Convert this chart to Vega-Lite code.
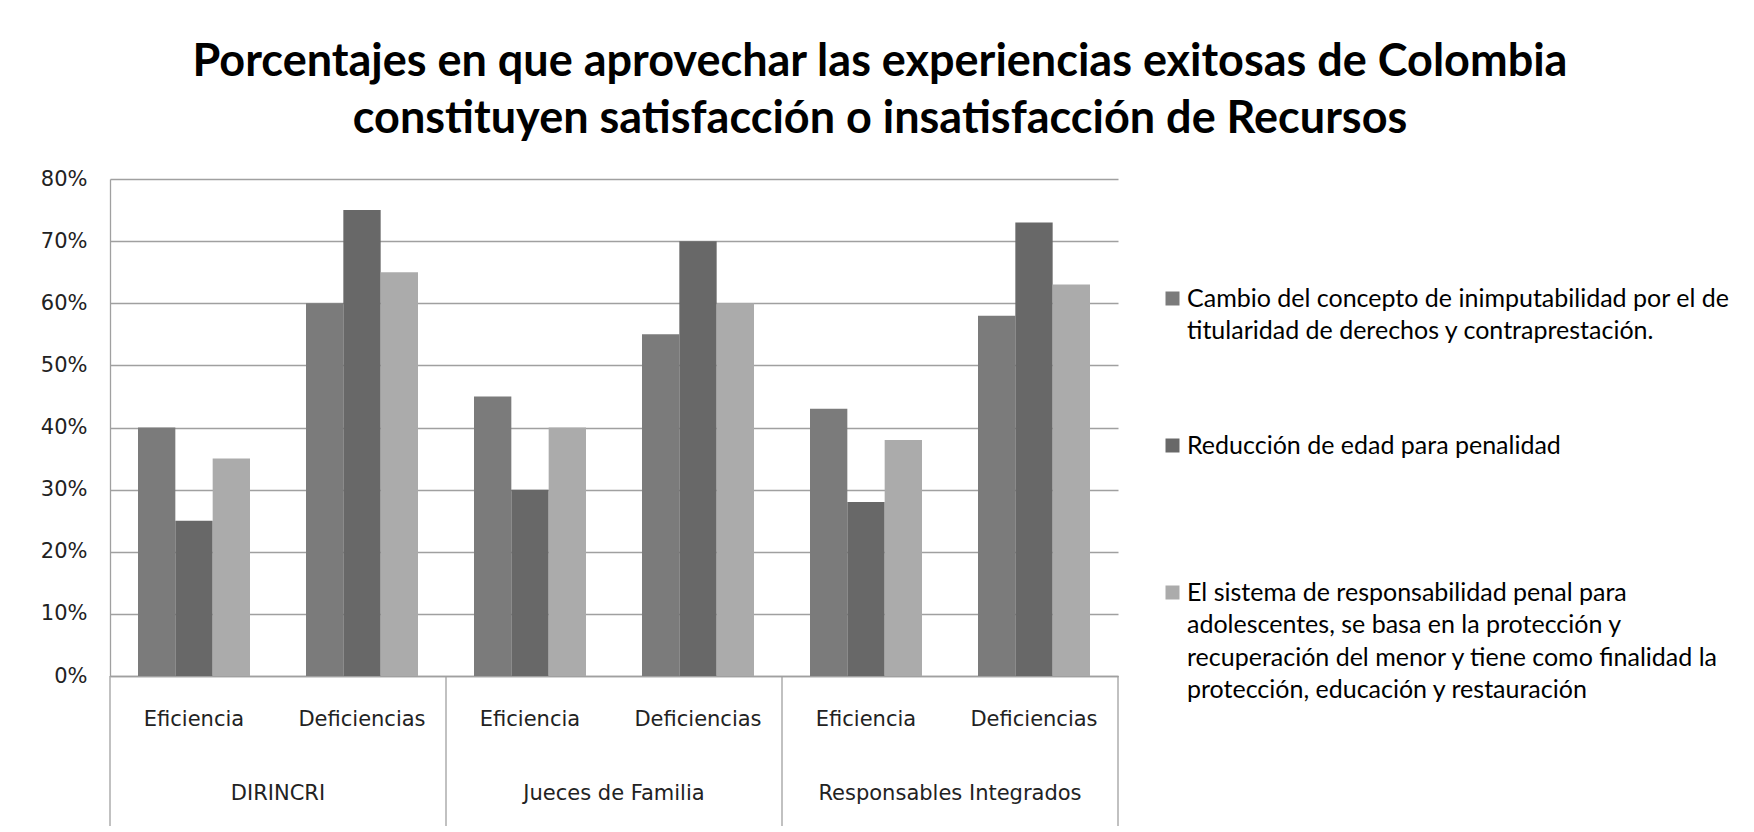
{
  "$schema": "https://vega.github.io/schema/vega-lite/v6.json",
  "width": 1008,
  "height": 497,
  "autosize": {"type": "none"},
  "padding": {"left": 110, "top": 179, "right": 636, "bottom": 156},
  "background": "white",
  "title": {
    "text": ["Porcentajes en que aprovechar las experiencias exitosas de Colombia", "constituyen satisfacción o insatisfacción de Recursos"],
    "font": "Lato", "fontSize": 45, "fontWeight": "bold", "lineHeight": 57, "color": "#000000",
    "anchor": "middle", "frame": "group", "dx": 266, "offset": 26
  },
  "config": {"view": {"stroke": null}},
  "data": {
    "values": [
      {"grupo": "DIRINCRI", "categoria": "Eficiencia", "cat": "DIRINCRI|Eficiencia", "serie": "Cambio del concepto de inimputabilidad por el de titularidad de derechos y contraprestación.", "valor": 0.40},
      {"grupo": "DIRINCRI", "categoria": "Eficiencia", "cat": "DIRINCRI|Eficiencia", "serie": "Reducción de edad para penalidad", "valor": 0.25},
      {"grupo": "DIRINCRI", "categoria": "Eficiencia", "cat": "DIRINCRI|Eficiencia", "serie": "El sistema de responsabilidad penal para adolescentes, se basa en la protección y recuperación del menor y tiene como finalidad la protección, educación y restauración", "valor": 0.35},
      {"grupo": "DIRINCRI", "categoria": "Deficiencias", "cat": "DIRINCRI|Deficiencias", "serie": "Cambio del concepto de inimputabilidad por el de titularidad de derechos y contraprestación.", "valor": 0.60},
      {"grupo": "DIRINCRI", "categoria": "Deficiencias", "cat": "DIRINCRI|Deficiencias", "serie": "Reducción de edad para penalidad", "valor": 0.75},
      {"grupo": "DIRINCRI", "categoria": "Deficiencias", "cat": "DIRINCRI|Deficiencias", "serie": "El sistema de responsabilidad penal para adolescentes, se basa en la protección y recuperación del menor y tiene como finalidad la protección, educación y restauración", "valor": 0.65},
      {"grupo": "Jueces de Familia", "categoria": "Eficiencia", "cat": "Jueces de Familia|Eficiencia", "serie": "Cambio del concepto de inimputabilidad por el de titularidad de derechos y contraprestación.", "valor": 0.45},
      {"grupo": "Jueces de Familia", "categoria": "Eficiencia", "cat": "Jueces de Familia|Eficiencia", "serie": "Reducción de edad para penalidad", "valor": 0.30},
      {"grupo": "Jueces de Familia", "categoria": "Eficiencia", "cat": "Jueces de Familia|Eficiencia", "serie": "El sistema de responsabilidad penal para adolescentes, se basa en la protección y recuperación del menor y tiene como finalidad la protección, educación y restauración", "valor": 0.40},
      {"grupo": "Jueces de Familia", "categoria": "Deficiencias", "cat": "Jueces de Familia|Deficiencias", "serie": "Cambio del concepto de inimputabilidad por el de titularidad de derechos y contraprestación.", "valor": 0.55},
      {"grupo": "Jueces de Familia", "categoria": "Deficiencias", "cat": "Jueces de Familia|Deficiencias", "serie": "Reducción de edad para penalidad", "valor": 0.70},
      {"grupo": "Jueces de Familia", "categoria": "Deficiencias", "cat": "Jueces de Familia|Deficiencias", "serie": "El sistema de responsabilidad penal para adolescentes, se basa en la protección y recuperación del menor y tiene como finalidad la protección, educación y restauración", "valor": 0.60},
      {"grupo": "Responsables Integrados", "categoria": "Eficiencia", "cat": "Responsables Integrados|Eficiencia", "serie": "Cambio del concepto de inimputabilidad por el de titularidad de derechos y contraprestación.", "valor": 0.43},
      {"grupo": "Responsables Integrados", "categoria": "Eficiencia", "cat": "Responsables Integrados|Eficiencia", "serie": "Reducción de edad para penalidad", "valor": 0.28},
      {"grupo": "Responsables Integrados", "categoria": "Eficiencia", "cat": "Responsables Integrados|Eficiencia", "serie": "El sistema de responsabilidad penal para adolescentes, se basa en la protección y recuperación del menor y tiene como finalidad la protección, educación y restauración", "valor": 0.38},
      {"grupo": "Responsables Integrados", "categoria": "Deficiencias", "cat": "Responsables Integrados|Deficiencias", "serie": "Cambio del concepto de inimputabilidad por el de titularidad de derechos y contraprestación.", "valor": 0.58},
      {"grupo": "Responsables Integrados", "categoria": "Deficiencias", "cat": "Responsables Integrados|Deficiencias", "serie": "Reducción de edad para penalidad", "valor": 0.73},
      {"grupo": "Responsables Integrados", "categoria": "Deficiencias", "cat": "Responsables Integrados|Deficiencias", "serie": "El sistema de responsabilidad penal para adolescentes, se basa en la protección y recuperación del menor y tiene como finalidad la protección, educación y restauración", "valor": 0.63}
    ]
  },
  "layer": [
    {
      "mark": {"type": "bar"},
      "encoding": {
        "x": {
          "field": "cat", "type": "nominal",
          "scale": {
            "domain": ["DIRINCRI|Eficiencia", "DIRINCRI|Deficiencias", "Jueces de Familia|Eficiencia", "Jueces de Familia|Deficiencias", "Responsables Integrados|Eficiencia", "Responsables Integrados|Deficiencias"],
            "paddingInner": 0, "paddingOuter": 0
          },
          "axis": {
            "title": null, "labelExpr": "split(datum.value, '|')[1]", "labelAngle": 0,
            "labelFont": "DejaVu Sans", "labelFontSize": 21, "labelColor": "#222222",
            "ticks": false, "tickSize": 0, "labelPadding": 43, "labelBaseline": "middle",
            "domainColor": "#a0a0a0", "domainWidth": 1.3, "grid": false
          }
        },
        "xOffset": {
          "field": "serie", "type": "nominal",
          "scale": {
            "domain": ["Cambio del concepto de inimputabilidad por el de titularidad de derechos y contraprestación.", "Reducción de edad para penalidad", "El sistema de responsabilidad penal para adolescentes, se basa en la protección y recuperación del menor y tiene como finalidad la protección, educación y restauración"],
            "paddingInner": 0, "paddingOuter": 0.75
          }
        },
        "y": {
          "field": "valor", "type": "quantitative",
          "scale": {"domain": [0, 0.8], "nice": false, "zero": false},
          "axis": {
            "title": null, "format": ".0%", "values": [0, 0.1, 0.2, 0.3, 0.4, 0.5, 0.6, 0.7, 0.8],
            "labelFont": "DejaVu Sans", "labelFontSize": 21, "labelColor": "#222222",
            "ticks": false, "tickSize": 0, "labelPadding": 23,
            "domainColor": "#a0a0a0", "domainWidth": 1.3,
            "grid": true, "gridColor": "#a0a0a0", "gridWidth": 1.3
          }
        },
        "color": {
          "field": "serie", "type": "nominal",
          "scale": {
            "domain": ["Cambio del concepto de inimputabilidad por el de titularidad de derechos y contraprestación.", "Reducción de edad para penalidad", "El sistema de responsabilidad penal para adolescentes, se basa en la protección y recuperación del menor y tiene como finalidad la protección, educación y restauración"],
            "range": ["#7b7b7b", "#686868", "#ababab"]
          },
          "legend": {
            "title": null, "orient": "none", "legendX": 1050, "legendY": 107,
            "symbolType": "square", "symbolSize": 196, "symbolStrokeWidth": 0,
            "labelFont": "Lato", "labelFontSize": 25, "labelColor": "#000000",
            "labelLimit": 900, "labelBaseline": "alphabetic", "labelOffset": 2,
            "gridAlign": "all", "rowPadding": 24,
            "labelExpr": "datum.label == 'Reducción de edad para penalidad' ? ['Reducción de edad para penalidad'] : indexof(datum.label, 'Cambio') == 0 ? ['Cambio del concepto de inimputabilidad por el de', 'titularidad de derechos y contraprestación.'] : ['El sistema de responsabilidad penal para', 'adolescentes, se basa en la protección y', 'recuperación del menor y tiene como finalidad la', 'protección, educación y restauración']",
            "encode": {"labels": {"update": {"dy": {"value": 8}, "lineHeight": {"value": 32.5}}}}
          }
        }
      }
    },
    {
      "data": {"values": [{"cat": "DIRINCRI|Eficiencia"}, {"cat": "Jueces de Familia|Eficiencia"}, {"cat": "Responsables Integrados|Eficiencia"}]},
      "mark": {"type": "rule", "color": "#a0a0a0", "strokeWidth": 1.3},
      "encoding": {
        "x": {"field": "cat", "type": "nominal", "bandPosition": 0},
        "y": {"datum": 0, "type": "quantitative"},
        "y2": {"datum": -0.2414}
      }
    },
    {
      "data": {"values": [{"cat": "Responsables Integrados|Deficiencias"}]},
      "mark": {"type": "rule", "color": "#a0a0a0", "strokeWidth": 1.3},
      "encoding": {
        "x": {"field": "cat", "type": "nominal", "bandPosition": 1},
        "y": {"datum": 0, "type": "quantitative"},
        "y2": {"datum": -0.2414}
      }
    },
    {
      "data": {"values": [
        {"cat": "DIRINCRI|Eficiencia", "grupo": "DIRINCRI"},
        {"cat": "Jueces de Familia|Eficiencia", "grupo": "Jueces de Familia"},
        {"cat": "Responsables Integrados|Eficiencia", "grupo": "Responsables Integrados"}
      ]},
      "mark": {"type": "text", "font": "DejaVu Sans", "fontSize": 21, "color": "#222222", "align": "center", "baseline": "middle"},
      "encoding": {
        "x": {"field": "cat", "type": "nominal", "bandPosition": 1},
        "y": {"datum": -0.1905, "type": "quantitative"},
        "text": {"field": "grupo"}
      }
    }
  ]
}
